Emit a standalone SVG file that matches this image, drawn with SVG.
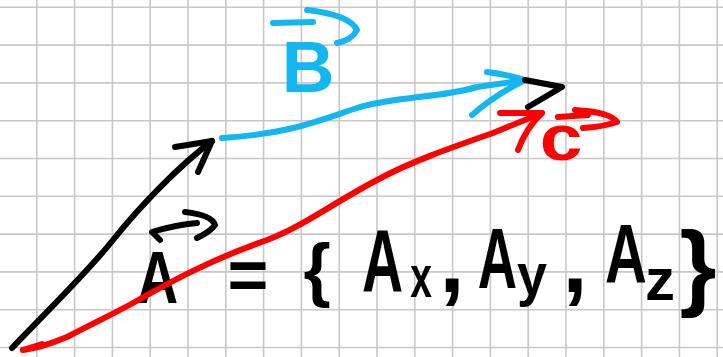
<svg xmlns="http://www.w3.org/2000/svg" width="723" height="357" viewBox="0 0 723 357">
<defs>
<style>
.grid{stroke:#c8c8c8;stroke-width:1.6;fill:none}
.ink{fill:none;stroke-linecap:round;stroke-linejoin:round;stroke-width:6}
.k{stroke:#000}
.b{stroke:#12b6f0}
.r{stroke:#ff0000}
.t{font-family:"Liberation Sans",Arial,sans-serif;font-weight:bold;text-anchor:middle}
.tk{fill:#000}
.tb{fill:#12b6f0}
.tr{fill:#ff0000}
</style>
</defs>
<rect width="723" height="357" fill="#ffffff"/>
<g id="grid">
<path class="grid" d="M36.8,0V357M74.6,0V357M112.4,0V357M150.2,0V357M188,0V357M225.8,0V357M263.6,0V357M301.4,0V357M339.2,0V357M377,0V357M414.8,0V357M452.6,0V357M490.4,0V357M528.2,0V357M566,0V357M603.8,0V357M641.6,0V357M679.4,0V357M717.2,0V357"/>
<path class="grid" d="M0,7.3H723M0,45.1H723M0,82.9H723M0,120.7H723M0,158.5H723M0,196.3H723M0,234.1H723M0,271.9H723M0,309.7H723M0,347.5H723"/>
</g>
<g id="label-B">
<text class="t tb" transform="translate(308,92)" font-size="73">B</text>
<path class="ink b" d="M273,23 L313,22 M307,10 Q350,15 357,30 Q352,40 337,43"/>
</g>
<g id="label-C">
<text class="t tr" transform="translate(561,160) scale(1.2,1)" font-size="64">c</text>
<path class="ink r" d="M558,117 L588,115 M575,110 Q610,112 617,122 Q602,127 583,128"/>
</g>
<g id="equation">
<text class="t tk" transform="translate(157.5,303) scale(0.77,1)" font-size="74">A</text>
<path class="ink k" d="M160,240 L152,232 Q175,225 197,223 M185,212 Q212,215 215,225 Q210,232 197,238"/>
<text class="t tk" transform="translate(248,299)" font-size="70">=</text>
<text class="t tk" transform="translate(317,293)" font-size="70">{</text>
<text class="t tk" transform="translate(382.5,292) scale(0.64,1)" font-size="89">A</text>
<text class="t tk" transform="translate(421,297) scale(0.65,1)" font-size="60">x</text>
<text class="t tk" transform="translate(452,292)" font-size="90">,</text>
<text class="t tk" transform="translate(497.5,288) scale(0.64,1)" font-size="85">A</text>
<text class="t tk" transform="translate(532,295) scale(0.9,1)" font-size="60">y</text>
<text class="t tk" transform="translate(575,292)" font-size="90">,</text>
<text class="t tk" transform="translate(626,283) scale(0.69,1)" font-size="84">A</text>
<text class="t tk" transform="translate(660,300)" font-size="60">z</text>
<text class="t tk" transform="translate(698,298)" font-size="95">}</text>
</g>
<g id="connectors">
<g id="vector-A">
<path class="ink k" d="M12,348 C45,313 85,275 113,240 S180,165 212,141"/>
<path class="ink k" d="M175,147 L212,141 L198,172"/>
</g>
<g id="vector-B">
<path class="ink b" d="M222,138 C290,134 320,120 360,107 C400,96 440,98 477,87 L525,80"/>
<path class="ink b" d="M487,72 Q505,74 525,80 Q495,95 472,115"/>
</g>
<g id="closing">
<path class="ink k" d="M525,80 L562,87 L528,107"/>
</g>
<g id="vector-C">
<path class="ink r" stroke-width="10" d="M23,350 L42,344"/>
<path class="ink r" d="M23,350 C40,348 55,342 67,337 C100,320 115,313 133,303 C170,282 210,260 267,240 C300,228 330,205 377,180 C410,162 450,148 493,133 L542,113"/>
<path class="ink r" d="M500,113 L542,113 Q526,128 518,150"/>
</g>
</g>
</svg>
